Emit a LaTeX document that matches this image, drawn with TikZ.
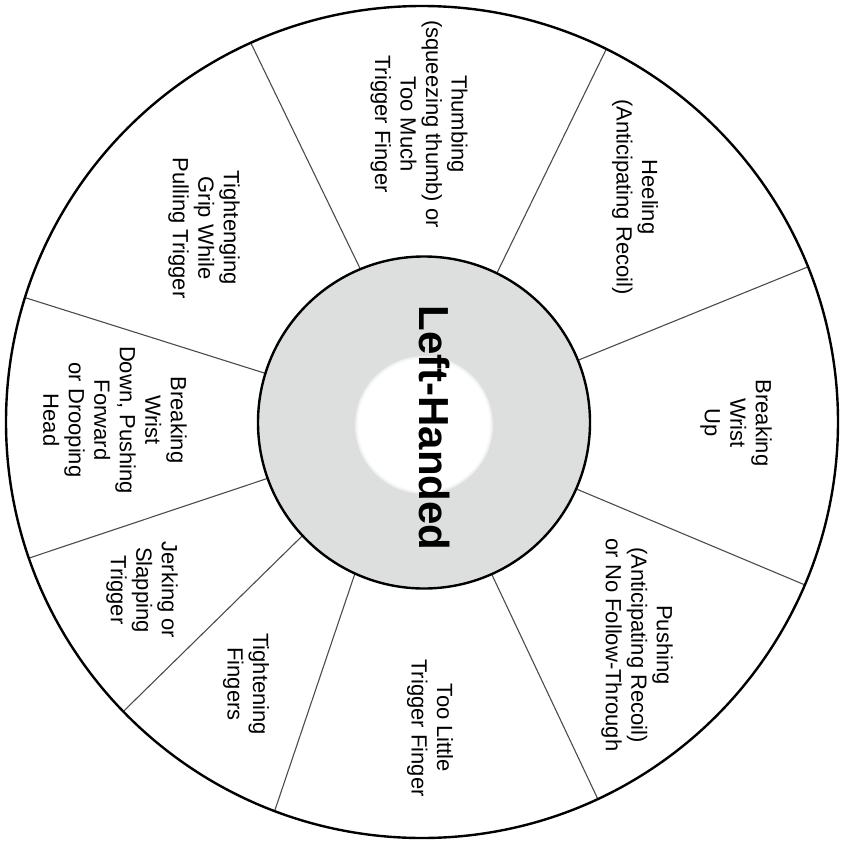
\documentclass[tikz,border=0pt]{standalone}
\usepackage{fontspec}
\setmainfont{Liberation Sans}
\usetikzlibrary{calc}
\definecolor{ringgray}{RGB}{220,223,221}
\begin{document}
\begin{tikzpicture}[x=1pt,y=-1pt,
  lbl/.style={rotate=-90, align=center, font=\fontsize{22}{25.5}\selectfont, text=black, inner sep=0pt},
  divider/.style={draw=black!70, line width=1.1pt},
  rim/.style={draw=black, line width=2.4pt}]
\useasboundingbox (0,0) rectangle (841,841);
\fill[white] (0,0) rectangle (841,841);
\coordinate (O) at (422,422);
\coordinate (I) at (424,422.5);
\coordinate (W) at (424,425);
% dividers
\foreach \a/\b in {-112.4/-114.3, -64/-63.7, -22/-21.9, 23.6/23.05, 66/65, 114.8/110.75, 137.1/135.9, 160.3/160.9, -162.8/-162.6}
  \draw[divider] ($(I)+(\a:160)$) -- ($(O)+(\b:416)$);
% outer rim
\draw[rim] (O) circle[radius=416];
% hub
\filldraw[fill=ringgray, rim] (I) circle[radius=166];
\fill[ringgray!50!white] (W) circle[radius=69];
\fill[ringgray!20!white] (W) circle[radius=67.5];
\fill[white] (W) circle[radius=66];
\node[rotate=-90, inner sep=0pt, font=\bfseries\fontsize{42}{42}\selectfont] (hub) at (435,428) {Left-Handed};
% labels
\node[lbl] (grip) at (204,228) {Tightenging\\Grip While\\Pulling Trigger};
\node[lbl] (thumb) at (419,124) {Thumbing\\(squeezing thumb) or\\Too Much\\Trigger Finger};
\node[lbl] (heel) at (635,197) {Heeling\\(Anticipating Recoil)};
\node[lbl] (wristup) at (736,423) {Breaking\\Wrist\\Up};
\node[lbl] (push) at (637,645) {Pushing\\(Anticipating Recoil)\\or No Follow-Through};
\node[lbl] (little) at (430,728) {Too Little\\Trigger Finger};
\node[lbl] (fingers) at (246,684) {Tightening\\Fingers};
\node[lbl] (jerk) at (142,590) {Jerking or\\Slapping\\Trigger};
\node[lbl] (wristdown) at (115,420) {Breaking\\Wrist\\Down, Pushing\\Forward\\or Drooping\\Head};
\end{tikzpicture}
\end{document}
